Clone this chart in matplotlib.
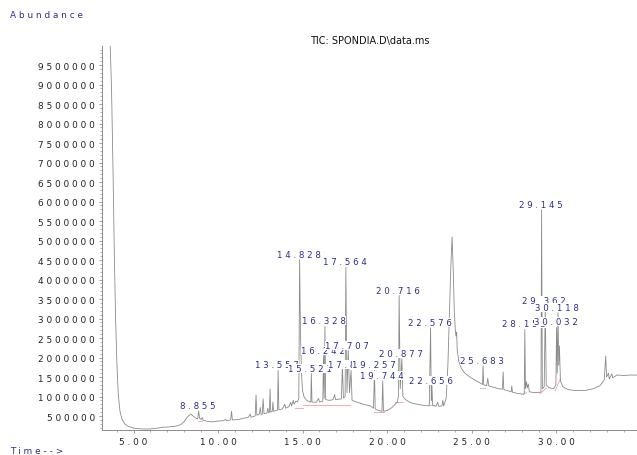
import matplotlib
matplotlib.use('Agg')
import matplotlib.pyplot as plt
from matplotlib.ticker import MultipleLocator, FixedLocator

# retention time (min) and abundance (millions)
rt = [3.55, 3.62, 3.70, 3.78, 3.86, 3.94, 4.02, 4.10, 4.20, 4.32, 4.48, 4.70, 5.00, 5.40,
      5.90, 6.30, 6.70, 7.10, 7.50, 7.80, 8.00, 8.20, 8.38, 8.55, 8.70, 8.80, 8.855, 8.91,
      9.00, 9.07, 9.12, 9.40, 9.70, 10.00, 10.30, 10.45, 10.50, 10.75, 10.80, 10.85, 11.20,
      11.50, 11.80, 11.90, 11.95, 12.20, 12.25, 12.30, 12.45, 12.50, 12.55, 12.62, 12.67,
      12.72, 12.90, 12.95, 13.00, 13.04, 13.08, 13.12, 13.21, 13.25, 13.29, 13.40, 13.52,
      13.557, 13.60, 13.80, 13.95, 14.00, 14.20, 14.30, 14.35, 14.45, 14.50, 14.60, 14.70,
      14.78, 14.828, 14.88, 14.94, 15.00, 15.10, 15.25, 15.45, 15.49, 15.521, 15.56, 15.80,
      15.95, 16.00, 16.20, 16.242, 16.28, 16.328, 16.37, 16.60, 16.80, 16.90, 16.95, 17.30,
      17.36, 17.42, 17.52, 17.564, 17.63, 17.707, 17.78, 17.872, 17.93, 18.20, 18.60, 19.00,
      19.20, 19.257, 19.30, 19.50, 19.70, 19.744, 19.79, 20.00, 20.30, 20.60, 20.68, 20.716,
      20.78, 20.877, 20.94, 21.10, 21.40, 21.80, 22.20, 22.50, 22.576, 22.62, 22.656, 22.70,
      22.90, 23.00, 23.05, 23.25, 23.30, 23.35, 23.50, 23.60, 23.70, 23.78, 23.85, 23.92,
      23.98, 24.04, 24.08, 24.12, 24.15, 24.25, 24.40, 24.60, 24.90, 25.20, 25.50, 25.65,
      25.683, 25.72, 25.90, 25.96, 26.02, 26.30, 26.60, 26.83, 26.87, 26.91, 27.20, 27.35,
      27.38, 27.42, 27.70, 28.00, 28.12, 28.153, 28.19, 28.25, 28.30, 28.36, 28.42, 28.70,
      29.00, 29.11, 29.145, 29.19, 29.30, 29.362, 29.42, 29.60, 29.85, 29.99, 30.032, 30.07,
      30.118, 30.16, 30.20, 30.26, 30.40, 30.70, 31.00, 31.40, 31.80, 32.20, 32.60, 32.85,
      32.94, 32.99, 33.10, 33.15, 33.30, 33.35, 33.60, 34.00, 34.40, 34.80]
abund = [10.6, 10.0, 8.9, 7.0, 4.8, 3.0, 1.8, 1.05, 0.62, 0.42, 0.30, 0.23, 0.19, 0.17,
         0.165, 0.18, 0.21, 0.22, 0.24, 0.28, 0.36, 0.48, 0.55, 0.49, 0.44, 0.43, 0.63, 0.44,
         0.41, 0.46, 0.39, 0.36, 0.35, 0.37, 0.38, 0.41, 0.38, 0.40, 0.62, 0.40, 0.41,
         0.44, 0.47, 0.55, 0.47, 0.50, 1.04, 0.52, 0.55, 0.72, 0.54, 0.55, 0.94,
         0.56, 0.58, 0.70, 0.58, 0.60, 1.19, 0.60, 0.62, 0.86, 0.62, 0.64, 0.65,
         1.67, 0.66, 0.68, 0.80, 0.70, 0.74, 0.85, 0.76, 0.90, 0.80, 0.88, 0.86,
         0.95, 4.51, 2.6, 1.6, 1.15, 0.98, 0.90, 0.86, 0.86, 1.59, 0.86, 0.85,
         0.95, 0.86, 0.88, 2.05, 0.95, 2.80, 0.92, 0.90, 0.92, 1.05, 0.92, 0.94,
         1.78, 0.96, 1.00, 4.31, 1.10, 2.18, 1.10, 1.67, 0.90, 0.86, 0.80, 0.76,
         0.70, 1.67, 0.68, 0.64, 0.62, 1.40, 0.62, 0.64, 0.72, 0.86, 1.00, 3.59,
         1.20, 1.97, 1.00, 0.92, 0.84, 0.80, 0.77, 0.76, 2.76, 0.90, 1.28, 0.77,
         0.75, 0.85, 0.75, 0.76, 0.90, 0.76, 0.95, 1.8, 3.2, 4.4, 5.09, 4.2,
         3.2, 2.7, 2.55, 2.65, 2.2, 1.9, 1.72, 1.60, 1.50, 1.42, 1.35, 1.31,
         1.79, 1.30, 1.28, 1.47, 1.27, 1.24, 1.20, 1.19, 1.63, 1.18, 1.14, 1.12,
         1.27, 1.11, 1.08, 1.06, 1.07, 2.72, 1.20, 1.38, 1.22, 1.32, 1.12, 1.10,
         1.10, 1.12, 5.79, 1.20, 1.25, 3.33, 1.30, 1.22, 1.20, 1.30, 2.77, 1.60,
         3.15, 1.80, 2.30, 1.40, 1.25, 1.18, 1.16, 1.15, 1.16, 1.20, 1.28, 1.42,
         2.04, 1.50, 1.60, 1.45, 1.58, 1.48, 1.55, 1.54, 1.55, 1.55]

# labelled peaks
peak_labels = ['8.855', '13.557', '14.828', '15.521', '16.242', '16.328', '17.564', '17.707',
               '17.872', '19.257', '19.744', '20.716', '20.877', '22.576', '22.656', '25.683',
               '28.153', '29.145', '29.362', '30.032', '30.118']
peak_heights = [0.63, 1.67, 4.51, 1.59, 2.05, 2.80, 4.31, 2.18, 1.67, 1.67, 1.40, 3.59, 1.97,
                2.76, 1.28, 1.79, 2.72, 5.79, 3.33, 2.77, 3.15]

# integration baselines (pink)
base_t0 = [8.82, 14.55, 15.03, 19.20, 20.50, 22.50, 25.50, 28.05, 29.05, 29.95]
base_t1 = [9.05, 15.03, 17.80, 19.80, 20.95, 22.75, 25.80, 28.25, 29.45, 30.25]
base_v0 = [0.38, 0.70, 0.78, 0.60, 0.86, 0.78, 1.22, 1.05, 1.07, 1.15]
base_v1 = [0.38, 0.70, 0.78, 0.60, 0.86, 0.78, 1.22, 1.10, 1.22, 1.45]

yticks = list(range(500000, 10000001, 500000))
xticks = [5, 10, 15, 20, 25, 30]


def spaced(s):
    return ' '.join(s)


navy = '#2e2e82'
fig = plt.figure(figsize=(6.37, 4.56), dpi=100)
ax = fig.add_axes([102 / 637, 1 - 431 / 456, 1 - 102 / 637, (431 - 47) / 456])

ax.plot(rt, [v * 1e6 for v in abund], color='#8a8a8a', lw=0.6, zorder=2)
for t0, t1, v0, v1 in zip(base_t0, base_t1, base_v0, base_v1):
    ax.plot([t0, t1], [v0 * 1e6, v1 * 1e6], color='#e6a3a3', lw=0.6, zorder=1)

# labels drawn in time order, each one hides what lies under it
for lab, h in zip(peak_labels, peak_heights):
    ax.annotate(spaced(lab), (float(lab), h * 1e6), xytext=(-1, 1), textcoords='offset pixels',
                ha='center', va='bottom', fontsize=6.2, color=navy, zorder=3,
                bbox=dict(boxstyle='square,pad=0', fc='white', ec='none'))

ax.set_xlim(3.136, 34.79)
ax.set_ylim(141000, 9990000)

for side in ['top', 'right']:
    ax.spines[side].set_visible(False)
for side in ['left', 'bottom']:
    ax.spines[side].set_color('#8c8c8c')
    ax.spines[side].set_linewidth(0.7)

ax.xaxis.set_major_locator(FixedLocator(xticks))
ax.xaxis.set_minor_locator(MultipleLocator(1))
ax.set_xticklabels([spaced('%.2f' % x) for x in xticks])
ax.yaxis.set_major_locator(FixedLocator(yticks))
ax.yaxis.set_minor_locator(MultipleLocator(100000))
ax.set_yticklabels([spaced(str(y)) for y in yticks])

ax.tick_params(which='major', length=2.5, width=0.6, color='#8c8c8c', labelsize=6.4,
               labelcolor='#222222', pad=2.5)
ax.tick_params(which='minor', length=1.3, width=0.5, color='#8c8c8c')

fig.text(0.5 * (102 + 637) / 637, 1 - 44 / 456, 'TIC: SPONDIA.D\\data.ms', ha='center',
         va='baseline', fontsize=7, color='#111111')
fig.text(10 / 637, 1 - 16 / 456, spaced('Abundance'), ha='left', va='center', fontsize=6.4,
         color=navy)
fig.text(10 / 637, 1 - 452 / 456, spaced('Time-->'), ha='left', va='center', fontsize=6.4,
         color=navy)

fig.savefig('out.png', dpi=100)
